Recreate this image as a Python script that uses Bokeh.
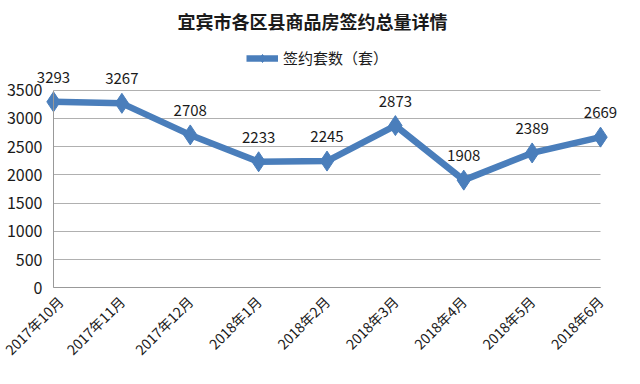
import math
from bokeh.plotting import figure
from bokeh.models import (ColumnDataSource, Range1d, FixedTicker, LabelSet, Legend, LegendItem)
from bokeh.core.properties import value
from bokeh.embed import file_html
from bokeh.resources import INLINE

categories = ["2017年10月", "2017年11月", "2017年12月", "2018年1月", "2018年2月",
              "2018年3月", "2018年4月", "2018年5月", "2018年6月"]
values = [3293, 3267, 2708, 2233, 2245, 2873, 1908, 2389, 2669]
y_ticks = [0, 500, 1000, 1500, 2000, 2500, 3000, 3500]
series_name = "签约套数（套）"
title_text = "宜宾市各区县商品房签约总量详情"

FONT = "Noto Sans CJK SC"
BLUE = "#4a7ebb"
TXT = "#1a1a1a"

xs = list(range(len(categories)))
src = ColumnDataSource(dict(x=xs, y=values, lbl=[str(v) for v in values]))

p = figure(width=624, height=368, output_backend="svg", toolbar_location=None,
           x_range=Range1d(-0.7605, 8.336), y_range=Range1d(-1407, 4414),
           min_border_left=1, min_border_right=1, min_border_top=36, min_border_bottom=1)

p.title.text = title_text
p.title.align = "center"
p.title.text_font = FONT
p.title.text_font_size = "18px"
p.title.text_font_style = "bold"
p.title.text_color = TXT

line = p.line("x", "y", source=src, line_color=BLUE, line_width=6.5)
pts = p.scatter("x", "y", source=src, marker="diamond", size=20, fill_color=BLUE, line_color=BLUE)

labels = LabelSet(x="x", y="y", text="lbl", source=src, y_offset=19, text_align="center",
                  text_font=value(FONT), text_font_size="15px", text_color=TXT)
p.add_layout(labels)

legend = Legend(items=[LegendItem(label=series_name, renderers=[line, pts])],
                orientation="horizontal", location=(245, 299), border_line_color=None,
                background_fill_alpha=0,
                label_text_font=FONT, label_text_font_size="15px", label_text_color=TXT,
                glyph_width=32, margin=0, padding=2)
p.add_layout(legend)

p.xaxis.ticker = FixedTicker(ticks=xs)
p.xaxis.fixed_location = 0
p.xaxis.bounds = (0, 8)
p.xaxis.major_label_overrides = {i: c for i, c in enumerate(categories)}
p.xaxis.major_label_orientation = math.pi / 4
p.xaxis.major_label_text_font = FONT
p.xaxis.major_label_text_font_size = "14px"
p.xaxis.major_label_text_color = TXT
p.xaxis.major_tick_line_color = None
p.xaxis.minor_tick_line_color = None
p.xaxis.axis_line_color = "#999999"

p.yaxis.ticker = FixedTicker(ticks=y_ticks)
p.yaxis.fixed_location = 0
p.yaxis.bounds = (0, 3500)
p.yaxis.major_label_text_font = FONT
p.yaxis.major_label_text_font_size = "16px"
p.yaxis.major_label_text_color = TXT
p.yaxis.major_tick_line_color = None
p.yaxis.minor_tick_line_color = None
p.yaxis.axis_line_color = "#999999"

p.xgrid.grid_line_color = None
p.ygrid.ticker = FixedTicker(ticks=y_ticks)
p.ygrid.cross_bounds = (0, 8)
p.ygrid.grid_line_color = "#b0b0b0"
p.outline_line_color = None

open("out.html", "w").write(file_html(p, INLINE))
